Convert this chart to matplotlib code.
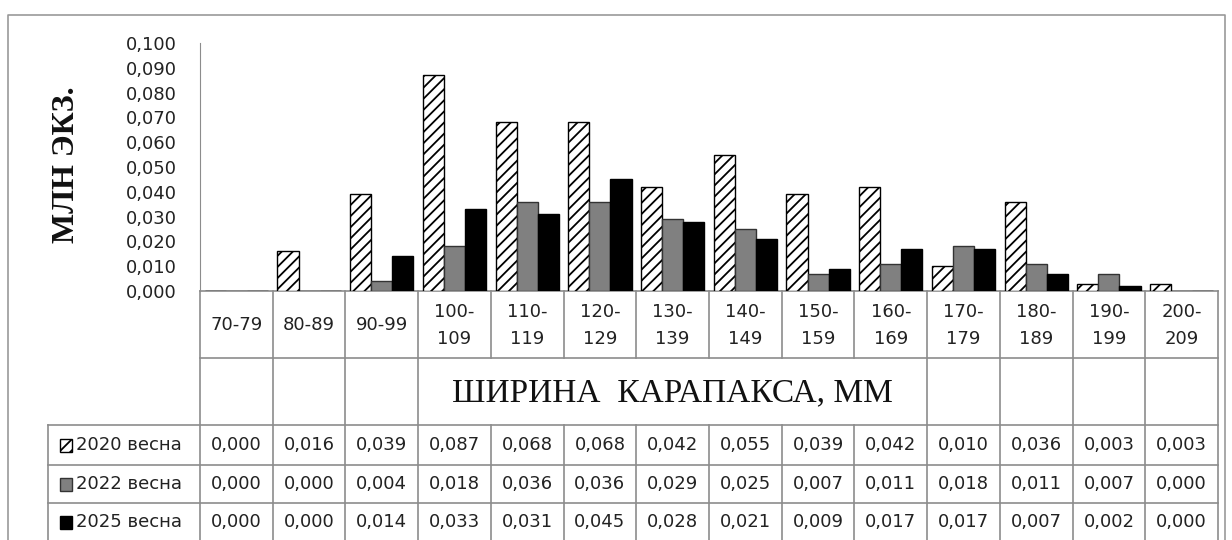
import matplotlib
matplotlib.use("Agg")
import matplotlib.pyplot as plt
from matplotlib.patches import Rectangle
import numpy as np

categories = ["70-79", "80-89", "90-99", "100-\n109", "110-\n119", "120-\n129",
              "130-\n139", "140-\n149", "150-\n159", "160-\n169", "170-\n179",
              "180-\n189", "190-\n199", "200-\n209"]
series_names = ["2020 весна", "2022 весна", "2025 весна"]
v2020 = [0.000, 0.016, 0.039, 0.087, 0.068, 0.068, 0.042, 0.055, 0.039, 0.042, 0.010, 0.036, 0.003, 0.003]
v2022 = [0.000, 0.000, 0.004, 0.018, 0.036, 0.036, 0.029, 0.025, 0.007, 0.011, 0.018, 0.011, 0.007, 0.000]
v2025 = [0.000, 0.000, 0.014, 0.033, 0.031, 0.045, 0.028, 0.021, 0.009, 0.017, 0.017, 0.007, 0.002, 0.000]
y_ticks = [0.0, 0.01, 0.02, 0.03, 0.04, 0.05, 0.06, 0.07, 0.08, 0.09, 0.10]
x_title = "ШИРИНА  КАРАПАКСА, ММ"
y_title = "МЛН ЭКЗ."

W, H = 1232, 540
FS = 13
plt.rcParams["font.family"] = ["DejaVu Sans"]
plt.rcParams["hatch.linewidth"] = 1.3
fig = plt.figure(figsize=(W / 100, H / 100), dpi=100)

# pixel layout
X0, X1 = 200, 1218
Y_TOP, Y_ZERO = 43, 291
n = len(categories)
cw = (X1 - X0) / n
edges = [X0 + i * cw for i in range(n + 1)]
GRID = "#8c8c8c"
TXT = "#222222"

ax = fig.add_axes([X0 / W, 1 - Y_ZERO / H, (X1 - X0) / W, (Y_ZERO - Y_TOP) / H])
x = np.arange(n)
bw = 0.29
styles = [dict(color="white", hatch="///", edgecolor="black"),
          dict(color="#808080", edgecolor="#333333"),
          dict(color="black", edgecolor="black")]
for i, (vals, st) in enumerate(zip([v2020, v2022, v2025], styles)):
    ax.bar(x + (i - 1) * bw, vals, bw, linewidth=1.0, **st, zorder=3)
ax.set_xlim(-0.5, n - 0.5)
ax.set_ylim(0, 0.1)
ax.set_yticks(y_ticks)
ax.set_yticklabels([f"{t:.3f}".replace(".", ",") for t in y_ticks], fontsize=FS, color=TXT)
ax.tick_params(axis="y", length=0, pad=16.5)
ax.set_xticks([])
for s in ["top", "right", "bottom"]:
    ax.spines[s].set_visible(False)
ax.spines["left"].set_color(GRID)
ax.patch.set_alpha(0)

# overlay in pixel coordinates for frame and data table
ov = fig.add_axes([0, 0, 1, 1], zorder=-1)
ov.set_xlim(0, W)
ov.set_ylim(H, 0)
ov.axis("off")

# outer frame
ov.plot([8, 8, 1225, 1225], [545, 15, 15, 545], color="#999999", lw=1.2)

# y title
ov.text(66, 165, y_title, rotation=90, ha="center", va="center",
        family="Liberation Serif", fontweight="bold", fontsize=23, color="#111111")

R_HEAD, R_TITLE = 358, 425
rows = [425, 465, 503, 541]
LEG_X = 48

# horizontal lines
ov.plot([X0, X1], [Y_ZERO, Y_ZERO], color=GRID, lw=1.2)
ov.plot([X0, X1], [R_HEAD, R_HEAD], color=GRID, lw=1.2)
for yy in rows:
    ov.plot([LEG_X, X1], [yy, yy], color=GRID, lw=1.2)
# vertical lines (title cell spans the middle columns)
for i, ex in enumerate(edges):
    if i <= 3 or i >= 10:
        ov.plot([ex, ex], [Y_ZERO, rows[-1]], color=GRID, lw=1.2)
    else:
        ov.plot([ex, ex], [Y_ZERO, R_HEAD], color=GRID, lw=1.2)
        ov.plot([ex, ex], [R_TITLE, rows[-1]], color=GRID, lw=1.2)
ov.plot([LEG_X, LEG_X], [rows[0], rows[-1]], color=GRID, lw=1.2)

# category labels
for i, lab in enumerate(categories):
    cx = (edges[i] + edges[i + 1]) / 2
    ov.text(cx, (Y_ZERO + R_HEAD) / 2 + 1, lab, ha="center", va="center",
            fontsize=FS, color=TXT, linespacing=1.6)

# axis title inside table
ov.text((edges[3] + edges[10]) / 2, (R_HEAD + R_TITLE) / 2 + 2, x_title,
        ha="center", va="center", family="Liberation Serif", fontsize=24, color="#111111")

# data rows with legend keys
for r, (name, vals, st) in enumerate(zip(series_names, [v2020, v2022, v2025], styles)):
    yc = (rows[r] + rows[r + 1]) / 2
    ov.add_patch(Rectangle((60, yc - 6.5), 12, 13, facecolor=st["color"],
                           edgecolor=st["edgecolor"], hatch=st.get("hatch"), lw=1.0))
    ov.text(76, yc, name, ha="left", va="center", fontsize=FS, color=TXT)
    for i, v in enumerate(vals):
        cx = (edges[i] + edges[i + 1]) / 2
        ov.text(cx, yc, f"{v:.3f}".replace(".", ","), ha="center", va="center",
                fontsize=FS, color=TXT)

fig.savefig("out.png", dpi=100)
